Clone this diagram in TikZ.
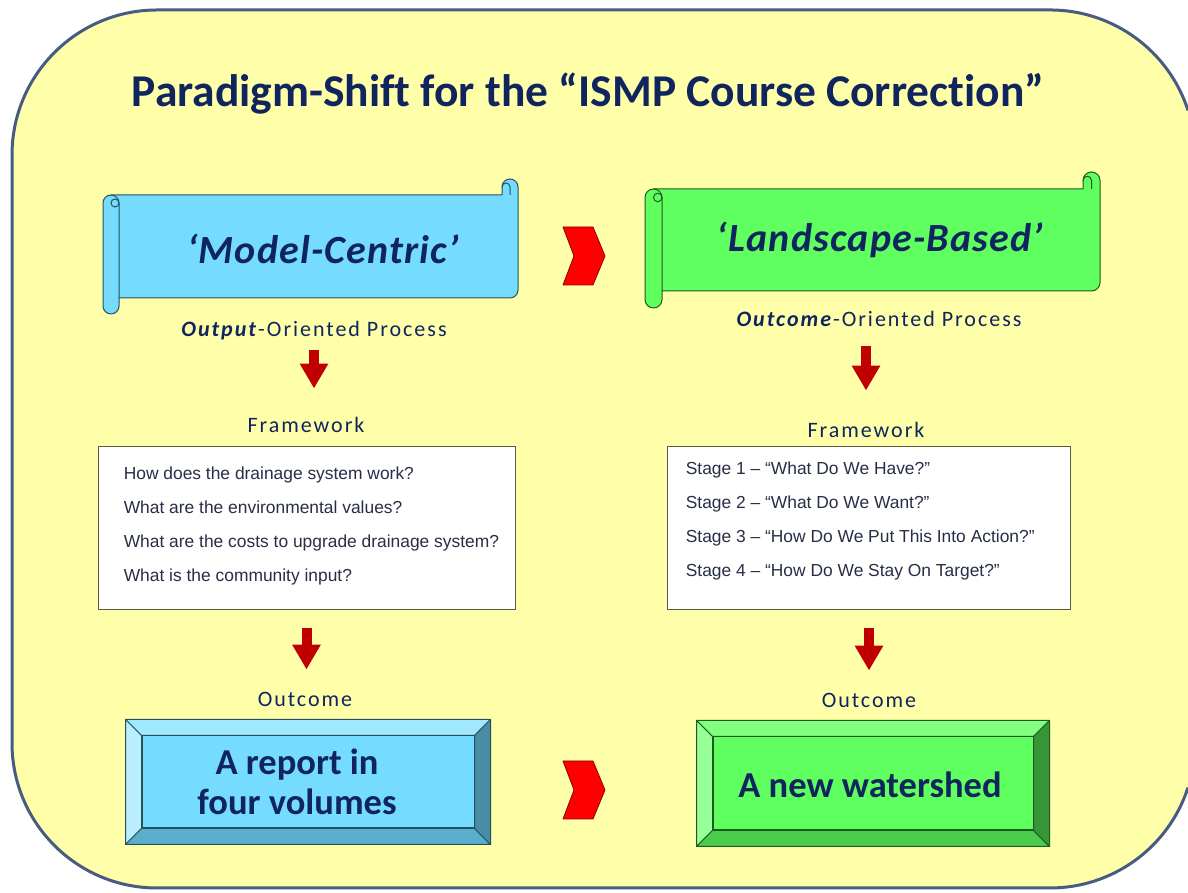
\documentclass[tikz,border=0pt]{standalone}
\usepackage{fontspec}
\setmainfont{Carlito}[Ligatures={TeX,NoCommon}]
\newfontfamily\labelfont{Carlito}[Ligatures=NoCommon,LetterSpace=9]
\newfontfamily\scrollfont{Carlito}[Ligatures=NoCommon,LetterSpace=3]
\newfontfamily\arialfont{Liberation Sans}
\usetikzlibrary{arrows.meta}
\definecolor{navy}{RGB}{16,37,94}
\definecolor{paper}{RGB}{255,255,170}
\definecolor{rim}{RGB}{72,92,130}
\definecolor{qtext}{RGB}{40,46,70}
\definecolor{boxrim}{RGB}{90,90,70}
\definecolor{arrowred}{RGB}{192,0,0}
\definecolor{skyF}{RGB}{117,219,255}
\definecolor{skyD}{RGB}{40,80,90}
\definecolor{skyTop}{RGB}{160,232,255}
\definecolor{skyLeft}{RGB}{185,238,255}
\definecolor{skyBottom}{RGB}{90,175,205}
\definecolor{skyRight}{RGB}{72,140,165}
\definecolor{limeF}{RGB}{96,255,96}
\definecolor{limeD}{RGB}{30,90,30}
\definecolor{limeTop}{RGB}{128,255,128}
\definecolor{limeLeft}{RGB}{150,255,150}
\definecolor{limeBottom}{RGB}{76,204,76}
\definecolor{limeRight}{RGB}{56,150,56}
\begin{document}
\begin{tikzpicture}[x=1pt,y=1pt,
  lbl/.style={text=navy,inner sep=0pt,anchor=base},
  small/.style={lbl,font=\labelfont\fontsize{22}{26}\selectfont},
  redarrow/.style={line width=10pt,draw=arrowred,-{Triangle[width=27pt,length=25pt]}},
  qbox/.style={draw=boxrim,fill=white,line width=0.8pt,minimum height=163pt},
  qtxt/.style={anchor=west,inner sep=0pt,align=left,text=qtext,font=\arialfont\fontsize{17.4}{34}\selectfont},
  face/.style={line width=1pt,text=navy,align=center,font=\fontsize{36.5}{40}\selectfont\bfseries},
  chev/.style={fill=red,draw={rgb,255:red,140;green,0;blue,0},line width=0.8pt,line join=round}]
\useasboundingbox (0,0) rectangle (1188,893);
\fill[white] (0,0) rectangle (1188,893);
% rounded panel, its right side runs off the page
\fill[paper] (1188,782.6) arc[start angle=17.9,end angle=90,radius=145] -- (157,883) arc[start angle=90,end angle=180,radius=145]
  -- (12,150) arc[start angle=180,end angle=270,radius=145] -- (1050,5) arc[start angle=270,end angle=342.1,radius=145]
  -- (1195,105.4) -- (1195,782.6) -- cycle;
\draw[rim,line width=3pt] (1188,782.6) arc[start angle=17.9,end angle=90,radius=145] -- (157,883) arc[start angle=90,end angle=180,radius=145]
  -- (12,150) arc[start angle=180,end angle=270,radius=145] -- (1050,5) arc[start angle=270,end angle=342.1,radius=145];

\node[lbl,font=\fontsize{45.5}{52}\selectfont\bfseries] (title) at (588,786) {Paradigm-Shift for the “ISMP Course Correction”};

% scrolls
\foreach \L/\R/\T/\B/\r/\f/\d in {103/518/714/579/8/skyF/skyD,645/1100/721/585/8.5/limeF/limeD}{
  \filldraw[fill=\f,draw=\d,line width=1pt,line join=round] (\L,\T-3*\r) arc[start angle=180,end angle=90,radius=\r]
    -- (\R-2*\r,\T-2*\r) -- (\R-2*\r,\T-\r) arc[start angle=180,end angle=0,radius=\r]
    -- (\R,\B+3*\r) arc[start angle=0,end angle=-90,radius=\r]
    -- (\L+2*\r,\B+2*\r) -- (\L+2*\r,\B+\r) arc[start angle=0,end angle=-180,radius=\r] -- cycle;
  \draw[draw=\d,line width=1pt] (\L+\r,\T-2*\r) arc[start angle=90,end angle=0,radius=\r] -- (\L+2*\r,\B+2*\r);
  \draw[draw=\d,line width=1pt] (\L+1.5*\r,\T-3*\r) circle[radius=\r/2];
  \draw[draw=\d,line width=1pt] (\R-\r,\T-2*\r) -- (\R-\r,\T-\r) arc[start angle=0,end angle=180,radius=\r/2];
}
\node[lbl,font=\scrollfont\fontsize{40}{46}\selectfont\bfseries\itshape] (mcL) at (323,629) {‘Model-Centric’};
\node[lbl,font=\scrollfont\fontsize{40}{46}\selectfont\bfseries\itshape] (lbR) at (880,641) {‘Landscape-Based’};

\node[small] (procL) at (314,556) {\textbf{\textit{Output}}-Oriented Process};
\node[small] (procR) at (879,566) {\textbf{\textit{Outcome}}-Oriented Process};
\node[small] (fwL) at (306,460) {Framework};
\node[small] (fwR) at (866,455) {Framework};

\node[qbox,minimum width=417pt] (boxL) at (306.5,365.5) {};
\node[qbox,minimum width=403pt] (boxR) at (868.5,365.5) {};
\node[qtxt] (qL) at ([xshift=26pt,yshift=1pt]boxL.west) {How does the drainage system work?\\What are the environmental values?\\What are the costs to upgrade drainage system?\\What is the community input?};
\node[qtxt] (qR) at ([xshift=19pt,yshift=6.5pt]boxR.west) {Stage 1 – “What Do We Have?”\\Stage 2 – “What Do We Want?”\\Stage 3 – “How Do We Put This Into Action?”\\Stage 4 – “How Do We Stay On Target?”};

\node[small] (outL) at (305,186) {Outcome};
\node[small] (outR) at (869,185) {Outcome};

% bevelled result boxes
\node[face,fill=skyF,draw=skyD,minimum width=332pt,minimum height=92pt] (resL) at (308,111) {};
\node[face,fill=limeF,draw=limeD,minimum width=320pt,minimum height=93pt] (resR) at (873,109.5) {};
\foreach \n/\c in {resL/sky,resR/lime}{
  \filldraw[fill=\c Top,draw=\c D,line width=1pt,line join=round] (\n.north west) -- (\n.north east) -- ([shift={(16,16)}]\n.north east) -- ([shift={(-16,16)}]\n.north west) -- cycle;
  \filldraw[fill=\c Left,draw=\c D,line width=1pt,line join=round] (\n.north west) -- (\n.south west) -- ([shift={(-16,-16)}]\n.south west) -- ([shift={(-16,16)}]\n.north west) -- cycle;
  \filldraw[fill=\c Bottom,draw=\c D,line width=1pt,line join=round] (\n.south west) -- (\n.south east) -- ([shift={(16,-16)}]\n.south east) -- ([shift={(-16,-16)}]\n.south west) -- cycle;
  \filldraw[fill=\c Right,draw=\c D,line width=1pt,line join=round] (\n.north east) -- (\n.south east) -- ([shift={(16,-16)}]\n.south east) -- ([shift={(16,16)}]\n.north east) -- cycle;
}
\node[face,inner sep=0pt] (repL) at ([xshift=-11pt]resL) {A report in\\four volumes};
\node[face,inner sep=0pt] (wsR) at ([xshift=-3pt,yshift=-1pt]resR) {A new watershed};

\draw[redarrow,shorten <=9pt,shorten >=29pt] (procL.south) -- (procL.south |- fwL.north);
\draw[redarrow,shorten <=19pt,shorten >=32pt] (fwR.north |- procR.south) -- (fwR.north);
\draw[redarrow,shorten <=19pt,shorten >=23pt] (boxL.south) -- (boxL.south |- outL.north);
\draw[redarrow,shorten <=19pt,shorten >=23pt] (outR.north |- boxR.south) -- (outR.north);

\foreach \cy in {637,103}
  \draw[chev] (563,\cy+29) -- (593,\cy+29) -- (605,\cy) -- (593,\cy-29) -- (563,\cy-29) -- (574,\cy) -- cycle;
\end{tikzpicture}
\end{document}
